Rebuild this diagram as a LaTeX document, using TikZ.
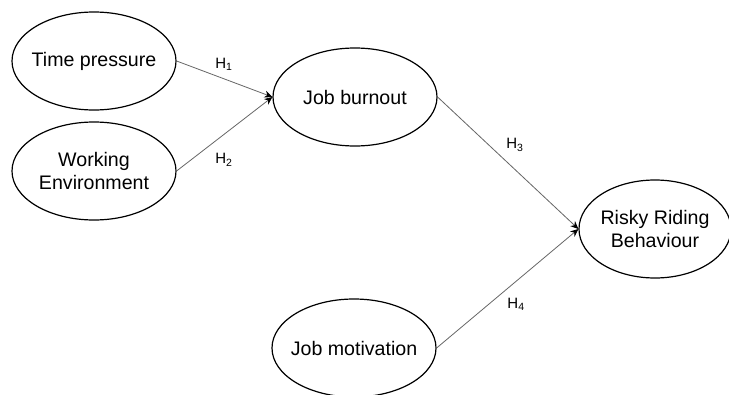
\documentclass[tikz,border=0pt]{standalone}
\usepackage{fontspec}
\setmainfont{Liberation Sans}
\usetikzlibrary{arrows.meta,shapes.geometric}
\begin{document}
\begin{tikzpicture}[x=1pt,y=-1pt,
                    latent/.style={draw, ellipse, inner sep=-20pt, line width=1.2pt, minimum width=164pt, minimum height=98pt, align=center, font=\fontsize{19.6}{23}\selectfont},
                    path/.style={draw=black!60, line width=0.8pt, -{Stealth[length=8pt,width=7pt,black]}},
                    hyp/.style={font=\fontsize{15}{17}\selectfont}]
                    \useasboundingbox (0,0) rectangle (729,394);
                    \path   node[latent] (A) at (94, 61) {Time pressure}
                            node[latent] (B) at (94, 171) {Working\\Environment}
                            node[latent] (C) at (355, 97) {Job burnout}
                            node[latent] (D) at (354, 348) {Job motivation}
                            node[latent, minimum width=152pt] (E) at (655, 229) {Risky Riding\\Behaviour};
                    \draw[path] (A.east) -- (C.west);
                    \draw[path] (B.east) -- (C.west);
                    \draw[path] (C.east) -- (E.west);
                    \draw[path] (D.east) -- (E.west);
                    \path   node[hyp] (h1) at (224, 64) {H\textsubscript{1}}
                            node[hyp] (h2) at (224, 160) {H\textsubscript{2}}
                            node[hyp] (h3) at (515, 145) {H\textsubscript{3}}
                            node[hyp] (h4) at (516, 304) {H\textsubscript{4}};
                \end{tikzpicture}
\end{document}
